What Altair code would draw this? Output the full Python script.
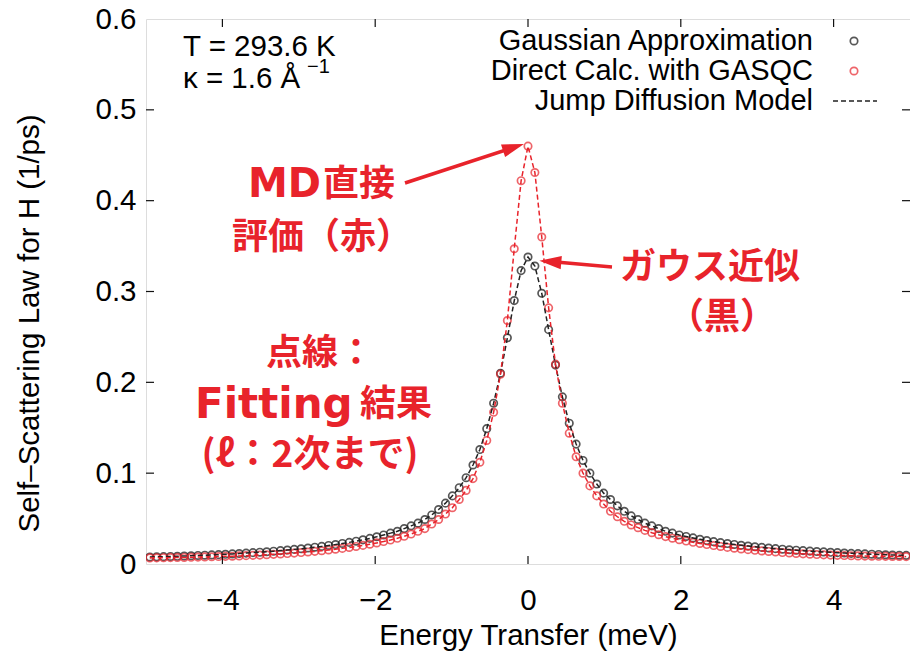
import altair as alt
import pandas as pd

# Energy grid (meV) for the non-negative side; the negative side mirrors it.
grid = [0.00, 0.09, 0.18, 0.27, 0.36, 0.45, 0.54, 0.63, 0.72, 0.81,
        0.90, 0.99, 1.08, 1.17, 1.26, 1.35, 1.44, 1.53, 1.62, 1.71,
        1.80, 1.89, 1.98, 2.07, 2.16, 2.25, 2.34, 2.43, 2.52, 2.61,
        2.70, 2.79, 2.88, 2.97, 3.06, 3.15, 3.24, 3.33, 3.42, 3.51,
        3.60, 3.69, 3.78, 3.87, 3.96, 4.05, 4.14, 4.23, 4.32, 4.41,
        4.50, 4.59, 4.68, 4.77, 4.86, 4.95]

# Gaussian approximation, S(E) for E = +grid
gauss_pos = [0.338, 0.328, 0.298, 0.258, 0.219, 0.184, 0.155, 0.132, 0.114, 0.100,
             0.088, 0.078, 0.071, 0.064, 0.058, 0.053, 0.049, 0.045, 0.042, 0.039,
             0.036, 0.034, 0.032, 0.0303, 0.0287, 0.0272, 0.0258, 0.0246, 0.0235, 0.0225,
             0.0215, 0.0206, 0.0198, 0.0190, 0.0183, 0.0176, 0.0169, 0.0163, 0.0157, 0.0152,
             0.0147, 0.0142, 0.0137, 0.0133, 0.0129, 0.0125, 0.0121, 0.0117, 0.0114, 0.0111,
             0.0108, 0.0105, 0.0102, 0.0099, 0.0097, 0.0095]
# Gaussian approximation, S(E) for E = -grid[1:]
gauss_neg = [0.323, 0.290, 0.249, 0.210, 0.177, 0.149, 0.126, 0.109, 0.095,
             0.084, 0.075, 0.067, 0.060, 0.054, 0.049, 0.045, 0.042, 0.039, 0.036,
             0.034, 0.032, 0.030, 0.0282, 0.0266, 0.0251, 0.0238, 0.0226, 0.0214, 0.0204,
             0.0194, 0.0185, 0.0176, 0.0168, 0.0161, 0.0154, 0.0147, 0.0141, 0.0135, 0.0130,
             0.0125, 0.0120, 0.0115, 0.0111, 0.0107, 0.0103, 0.0100, 0.0097, 0.0094, 0.0091,
             0.0088, 0.0085, 0.0083, 0.0081, 0.0079, 0.0077]

# Direct calculation with GASQC, S(E) for E = +grid
direct_pos = [0.460, 0.431, 0.360, 0.282, 0.220, 0.177, 0.144, 0.118, 0.100, 0.086,
              0.075, 0.066, 0.058, 0.052, 0.047, 0.043, 0.040, 0.037, 0.0345, 0.0322,
              0.0302, 0.0284, 0.0268, 0.0253, 0.0239, 0.0226, 0.0214, 0.0203, 0.0193, 0.0183,
              0.0174, 0.0166, 0.0158, 0.0151, 0.0144, 0.0138, 0.0132, 0.0126, 0.0121, 0.0116,
              0.0112, 0.0108, 0.0104, 0.0101, 0.0098, 0.0095, 0.0093, 0.0091, 0.0089, 0.0087,
              0.0086, 0.0085, 0.0084, 0.0083, 0.0082, 0.0081]
# Direct calculation with GASQC, S(E) for E = -grid[1:]
direct_neg = [0.422, 0.347, 0.268, 0.209, 0.167, 0.136, 0.112, 0.094, 0.081,
              0.071, 0.062, 0.055, 0.049, 0.044, 0.039, 0.036, 0.033, 0.0305, 0.0283,
              0.0264, 0.0247, 0.0232, 0.0218, 0.0205, 0.0193, 0.0182, 0.0172, 0.0163, 0.0154,
              0.0146, 0.0139, 0.0132, 0.0126, 0.0120, 0.0115, 0.0110, 0.0106, 0.0102, 0.0098,
              0.0095, 0.0092, 0.0089, 0.0086, 0.0084, 0.0082, 0.0080, 0.0078, 0.0076, 0.0074,
              0.0072, 0.0071, 0.0070, 0.0069, 0.0068, 0.0067]

x_ticks = [-4, -2, 0, 2, 4]
y_ticks = [0.1, 0.2, 0.3, 0.4, 0.5]

energy = [-e for e in reversed(grid[1:])] + grid
gauss = list(reversed(gauss_neg)) + gauss_pos
direct = list(reversed(direct_neg)) + direct_pos

n = len(energy)
df = pd.DataFrame({
    "energy": energy * 2,
    "value": gauss + direct,
    "series": ["gauss"] * n + ["direct"] * n,
})

W, H = 764, 545
SANS = "Liberation Sans"
CJK = "Noto Sans CJK JP"
WIDE = "DejaVu Sans"
BLACK = "#111111"
RED = "#e8232b"
FS = 29.5

xs = alt.Scale(domain=[-5, 5], nice=False, zero=False)
ys = alt.Scale(domain=[0, 0.6], nice=False)

x_axis = alt.Axis(
    values=x_ticks, ticks=False, domain=False, grid=False,
    labelFontSize=FS, labelFont=SANS, labelColor="black", labelPadding=22,
    title="Energy Transfer (meV)", titleFont=SANS, titleFontSize=FS,
    titleFontWeight="normal", titleColor="black",
    titleBaseline="alphabetic", titleY=80)
y_axis = alt.Axis(
    values=[0, 0.1, 0.2, 0.3, 0.4, 0.5, 0.6], ticks=False, domain=False, grid=False,
    labelExpr="datum.value == 0 ? '0' : format(datum.value, '.1f')",
    labelFontSize=FS, labelFont=SANS, labelColor="black", labelPadding=10,
    title="Self\u2013Scattering Law for H (1/ps)", titleFont=SANS, titleFontSize=FS,
    titleFontWeight="normal", titleColor="black",
    titleBaseline="alphabetic", titleAngle=270, titleX=-108, titleY=304)

x_enc = alt.X("energy:Q", scale=xs, axis=x_axis)
y_enc = alt.Y("value:Q", scale=ys, axis=y_axis)

base = alt.Chart(df).encode(x=x_enc, y=y_enc)

PT = dict(shape="circle", filled=False, size=55, strokeWidth=1.7, clip=True)
gauss_pts = base.transform_filter(alt.datum.series == "gauss").mark_point(color=BLACK, **PT)
direct_pts = base.transform_filter(alt.datum.series == "direct").mark_point(color=RED, **PT)
gauss_fit = base.transform_filter(alt.datum.series == "gauss").mark_line(
    color="#222222", strokeWidth=1.5, strokeDash=[5, 3], clip=True)
direct_fit = base.transform_filter(alt.datum.series == "direct").mark_line(
    color=RED, strokeWidth=1.5, strokeDash=[5, 3], clip=True)

# inward ticks on all four sides (mirrored), on the same scales and axes
xt = pd.DataFrame({"energy": x_ticks})
yt = pd.DataFrame({"value": y_ticks})
tick_style = dict(color="#111111", strokeWidth=1.2)
ticks = [
    alt.Chart(xt).mark_rule(**tick_style).encode(
        x=x_enc, y=alt.value(H), y2=alt.value(H - 8)),
    alt.Chart(xt).mark_rule(**tick_style).encode(
        x=x_enc, y=alt.value(0), y2=alt.value(8)),
    alt.Chart(yt).mark_rule(**tick_style).encode(
        y=y_enc, x=alt.value(0), x2=alt.value(8)),
    alt.Chart(yt).mark_rule(**tick_style).encode(
        y=y_enc, x=alt.value(W), x2=alt.value(W - 8)),
]


def label(text, x, y, size=FS, color="black", align="left", weight="normal",
          font=SANS, baseline="middle"):
    return alt.Chart(pd.DataFrame({"t": [text]})).mark_text(
        align=align, baseline=baseline, fontSize=size, font=font,
        color=color, fontWeight=weight).encode(
        x=alt.value(x), y=alt.value(y), text="t:N")


one = pd.DataFrame({"k": [0]})
LEG = dict(shape="circle", filled=False, size=55, strokeWidth=1.7)

# legend (text on the left, sample on the right)
legend = [
    label("Gaussian Approximation", 667, 22, size=29, align="right"),
    label("Direct Calc. with GASQC", 667, 52, size=29, align="right"),
    label("Jump Diffusion Model", 667, 82, size=29, align="right"),
    alt.Chart(one).mark_point(color=BLACK, **LEG).encode(x=alt.value(708), y=alt.value(22)),
    alt.Chart(one).mark_point(color=RED, **LEG).encode(x=alt.value(708), y=alt.value(52)),
    alt.Chart(one).mark_rule(color="#222222", strokeWidth=1.4,
                             strokeDash=[5, 3]).encode(
        x=alt.value(687), x2=alt.value(731), y=alt.value(82)),
]

conditions = [
    label("T = 293.6 K", 37, 28),
    label("\u03ba = 1.6 \u00c5", 37, 60),
    label("\u22121", 161, 48, size=20),
]


def note(text, x, y, size=36, font=CJK, align="left"):
    return label(text, x, y, size=size, color=RED, align=align, weight="bold", font=font)


notes = [
    note("MD", 102, 166, size=40, font=WIDE),
    note("直接", 177, 166),
    note("評価（赤）", 176, 219, align="center"),
    note("ガウス近似", 564, 249, align="center"),
    note("（黒）", 576, 299, align="center"),
    note("点線：", 174, 335, align="center"),
    note("Fitting", 49, 386, size=42, font=WIDE),
    note("結果", 214, 386),
    note("(ℓ：2次まで)", 164, 437, size=37, align="center"),
]

head = "M1,0 L-1,-0.6 L-1,0.6 Z"
HEAD = dict(shape=head, size=484, filled=True, color=RED, opacity=1, strokeWidth=0)
arrows = [
    alt.Chart(one).mark_rule(color=RED, strokeWidth=3.5).encode(
        x=alt.value(259), y=alt.value(164), x2=alt.value(367.5), y2=alt.value(128.4)),
    alt.Chart(one).mark_point(angle=341.9, **HEAD).encode(
        x=alt.value(367.5), y=alt.value(128.4)),
    alt.Chart(one).mark_rule(color=RED, strokeWidth=3.5).encode(
        x=alt.value(466), y=alt.value(248), x2=alt.value(404.3), y2=alt.value(242.6)),
    alt.Chart(one).mark_point(angle=185, **HEAD).encode(
        x=alt.value(404.3), y=alt.value(242.6)),
]

chart = alt.layer(
    gauss_pts, direct_pts, gauss_fit, direct_fit,
    *ticks, *legend, *conditions, *notes, *arrows,
).properties(
    width=W, height=H,
    autosize=alt.AutoSizeParams(type="none"),
    padding={"left": 146, "top": 19, "right": 0, "bottom": 91},
).configure_view(
    stroke="#111111", strokeWidth=1.5
).configure(background="white")

chart.save("out.html", embed_options={"renderer": "svg", "actions": False})
